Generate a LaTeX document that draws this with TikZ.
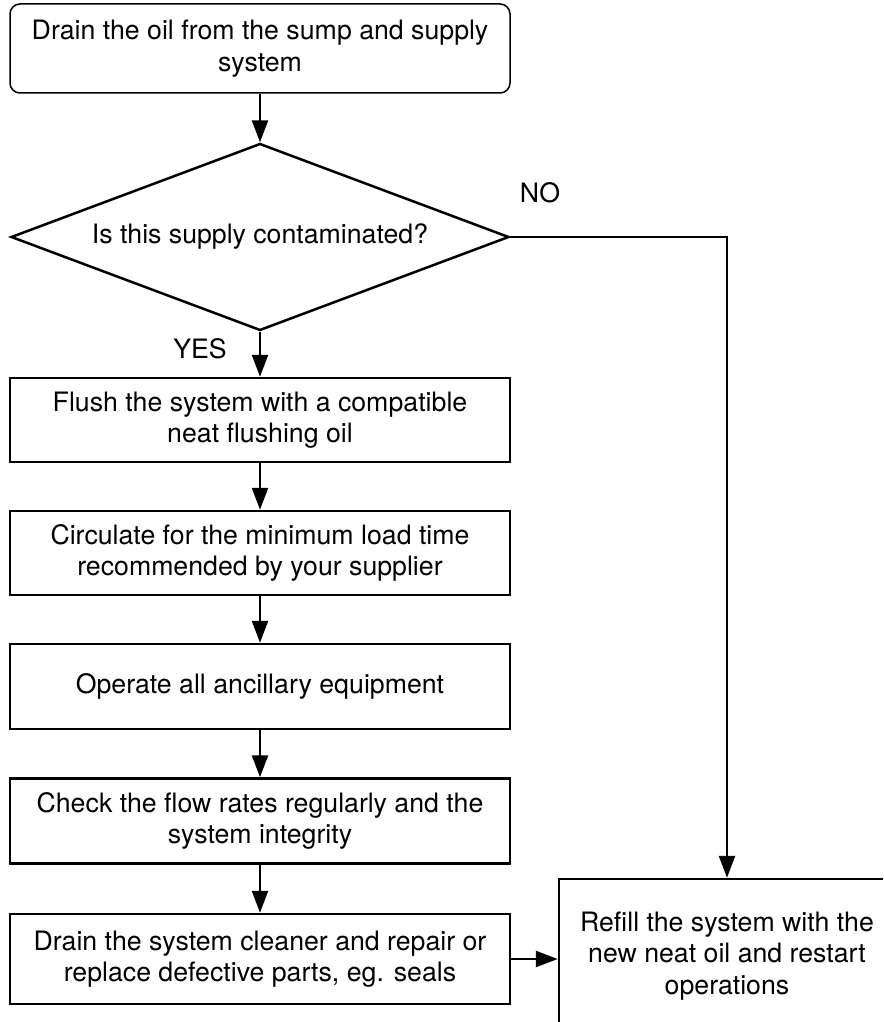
\documentclass[tikz,border=0pt]{standalone}
\usepackage{fontspec}
\setmainfont{TeX Gyre Heros}
\usetikzlibrary{shapes.geometric,arrows.meta}
\begin{document}
\begin{tikzpicture}[x=1pt,y=-1pt,
  every node/.style={font=\fontsize{26.7}{31.5}\selectfont},
  box/.style={draw, line width=2.5pt, minimum width=500pt, inner sep=0pt, align=center},
  conn/.style={line width=2.5pt, -{Triangle[length=22pt,width=16pt]}},
]
\useasboundingbox (0,0) rectangle (883,1022);
\fill[white] (0,0) rectangle (883,1022);
\clip (0,0) rectangle (883,1022);
\node[box, rounded corners=10pt, minimum height=89pt, line width=1.5pt] (start) at (260,48.5) {Drain the oil from the sump and supply\\system};
\node[draw, diamond, shape aspect=2.66, minimum width=498pt, minimum height=187pt, inner sep=0pt, line width=2.5pt] (dec) at (260,237) {Is this supply contaminated?};
\node (yes) at (200,349) {YES};
\node (no) at (540,193) {NO};
\node[box, minimum height=84pt] (flush) at (260,420) {Flush the system with a compatible\\neat flushing oil};
\node[box, minimum height=84pt] (circ) at (260,553) {Circulate for the minimum load time\\recommended by your supplier};
\node[box, minimum height=85pt] (oper) at (260,686.5) {Operate all ancillary equipment};
\node[box, minimum height=85pt] (check) at (260,821) {Check the flow rates regularly and the\\system integrity};
\node[box, minimum height=90pt] (drain) at (260,959) {Drain the system cleaner and repair or\\replace defective parts, eg. seals};
\node[box, minimum width=336pt, minimum height=154pt] (refill) at (727,956) {Refill the system with the\\new neat oil and restart\\operations};
\draw[conn] (start) -- (dec);
\draw[conn] (dec) -- (flush);
\draw[conn] (flush) -- (circ);
\draw[conn] (circ) -- (oper);
\draw[conn] (oper) -- (check);
\draw[conn] (check) -- (drain);
\draw[conn] (dec.east) -| (refill.north);
\draw[conn] (drain.east) -- (drain.east -| refill.west);
\end{tikzpicture}
\end{document}
